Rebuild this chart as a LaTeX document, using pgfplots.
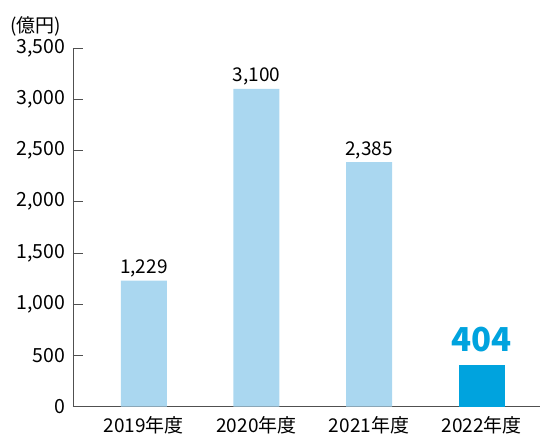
\documentclass[border=0pt]{standalone}
\usepackage{pgfplots}
\pgfplotsset{compat=1.18}
\usepackage{fontspec}
\setmainfont{Noto Sans CJK JP}
\definecolor{lightbar}{RGB}{170,215,240}
\definecolor{darkbar}{RGB}{0,163,222}
\definecolor{axisgray}{RGB}{80,80,80}
\begin{document}
\begin{tikzpicture}
\begin{axis}[
  scale only axis,
  width=467pt, height=359pt,
  xmin=-0.63, xmax=3.515,
  ymin=0, ymax=3500,
  axis lines*=left,
  axis line style={axisgray, line width=0.8pt},
  ytick={0,500,...,3500},
  xtick={0,1,2,3},
  xticklabels={2019年度,2020年度,2021年度,2022年度},
  x tick label style={font=\fontsize{19}{21}\selectfont, yshift=4pt},
  y tick label style={font=\fontsize{19.5}{21}\selectfont, xshift=-4pt},
  /pgf/number format/.cd, 1000 sep={,}, assume math mode=true, /pgfplots/.cd,
  tick align=inside,
  major tick length=10pt,
  x tick style={draw=none},
  y tick style={axisgray, line width=0.8pt},
  ybar, bar width=46pt,
  clip=false,
]
\addplot[fill=lightbar, draw=none, bar shift=0pt,
  nodes near coords, every node near coord/.append style={font=\fontsize{19}{21}\selectfont, text=black, yshift=0pt}]
  coordinates {(0,1229) (1,3100) (2,2385)};
\addplot[fill=darkbar, draw=none, bar shift=0pt,
  nodes near coords, every node near coord/.append style={font=\fontsize{33}{35}\selectfont\bfseries, text=darkbar, yshift=10pt}]
  coordinates {(3,404)};
\node[font=\fontsize{19}{21}\selectfont, anchor=west, inner sep=0pt] at ([xshift=-63pt,yshift=22pt]rel axis cs:0,1) {(億円)};
\end{axis}
\path (current axis.south west) ++(-73pt,-24pt) rectangle ++(540pt,431pt);
\end{tikzpicture}
\end{document}
